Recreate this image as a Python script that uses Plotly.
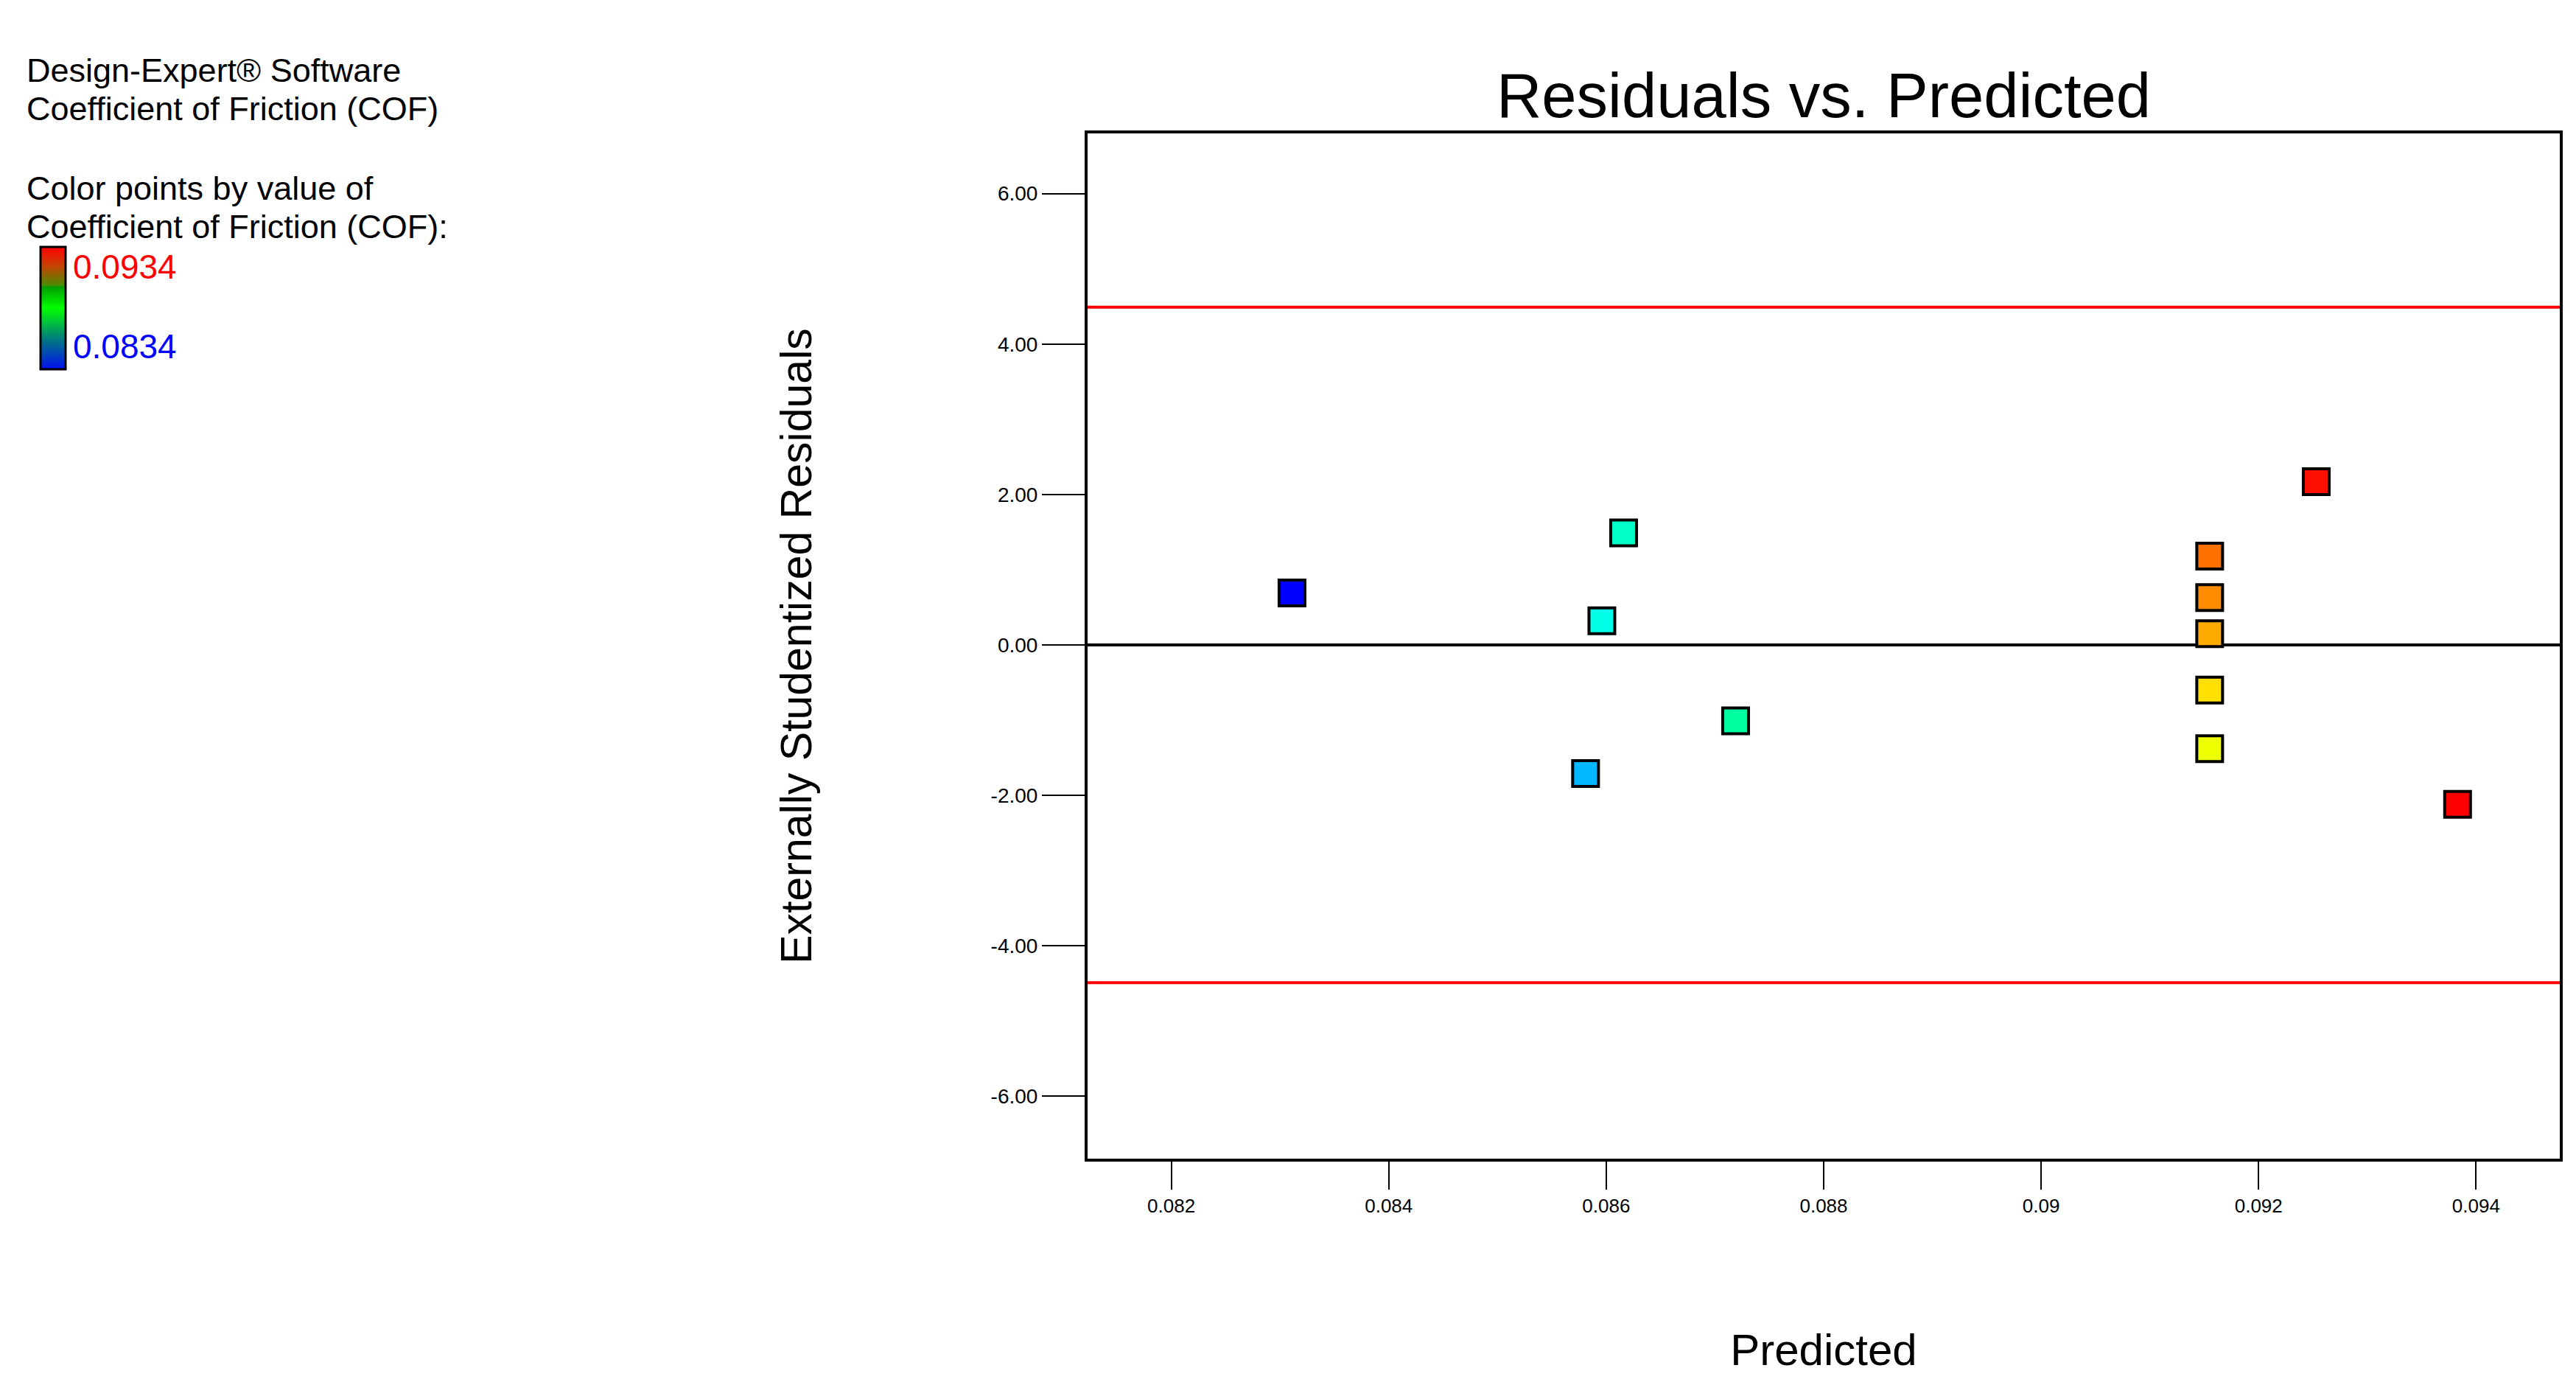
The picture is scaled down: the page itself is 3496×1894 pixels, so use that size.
import plotly.graph_objects as go

# ---- data ----
predicted = [0.08311, 0.08616, 0.08596, 0.08581, 0.08719, 0.09253,
             0.09155, 0.09155, 0.09155, 0.09155, 0.09155, 0.09383]
residuals = [0.69, 1.49, 0.32, -1.71, -1.01, 2.17,
             1.18, 0.63, 0.15, -0.60, -1.38, -2.12]
point_colors = ["#0000FF", "#00FFC8", "#00FFE6", "#00B8FF", "#00FFA0", "#FF1000",
                "#FF7000", "#FF8C00", "#FFAA00", "#FFE000", "#EEFF00", "#FF0000"]
limit_lines = [4.49, -4.49]
x_tickvals = [0.082, 0.084, 0.086, 0.088, 0.090, 0.092, 0.094]
x_ticktext = ["0.082", "0.084", "0.086", "0.088", "0.09", "0.092", "0.094"]
y_tickvals = [-6, -4, -2, 0, 2, 4, 6]
y_ticktext = ["-6.00", "-4.00", "-2.00", "0.00", "2.00", "4.00", "6.00"]
cof_min, cof_max = 0.0834, 0.0934
info_lines = ["Design-Expert® Software", "Coefficient of Friction (COF)", "",
              "Color points by value of", "Coefficient of Friction (COF):"]

W, H = 3496, 1894
L, R, T, B = 1468, 3466, 173, 1564
PW, PH = R - L, B - T
FONT = "Arial, Liberation Sans, sans-serif"


def px(xp):
    return (xp - L) / PW


def py(yp):
    return 1 - (yp - T) / PH


fig = go.Figure()

fig.add_trace(go.Scatter(
    x=predicted, y=residuals, mode="markers",
    marker=dict(symbol="square", size=35, color=point_colors,
                line=dict(color="black", width=4)),
    showlegend=False,
))

# colour legend bar
fig.add_trace(go.Scatter(
    x=[None], y=[None], mode="markers", showlegend=False, hoverinfo="skip",
    marker=dict(
        color=[cof_min], cmin=cof_min, cmax=cof_max, showscale=True,
        colorscale=[[0, "#0010F0"], [0.26, "#00807A"], [0.5, "#00FF00"],
                    [0.67, "#00A000"], [0.69, "#508A00"], [0.85, "#C84000"],
                    [1, "#FF0000"]],
        colorbar=dict(
            x=px(47), xanchor="left", y=py(327), yanchor="top",
            thicknessmode="pixels", thickness=34,
            lenmode="fraction", len=166 / PH,
            xpad=0, ypad=0, outlinewidth=3, outlinecolor="black",
            showticklabels=False, ticks="",
        ),
    ),
))

for v in limit_lines:
    fig.add_shape(type="line", xref="paper", x0=0, x1=1, yref="y", y0=v, y1=v,
                  line=dict(color="#FF0000", width=4), layer="below")

# left-hand info text
line_y = [87, 139, 193, 247, 300]
for txt, yy in zip(info_lines, line_y):
    if txt:
        fig.add_annotation(text=txt, xref="paper", yref="paper",
                           x=px(26), y=py(yy),
                           xanchor="left", yanchor="middle", showarrow=False,
                           font=dict(family=FONT, size=45, color="black"))

fig.add_annotation(text=f"{cof_max:.4f}", xref="paper", yref="paper",
                   x=px(89), y=py(354),
                   xanchor="left", yanchor="middle", showarrow=False,
                   font=dict(family=FONT, size=46, color="#FF0000"))
fig.add_annotation(text=f"{cof_min:.4f}", xref="paper", yref="paper",
                   x=px(89), y=py(462),
                   xanchor="left", yanchor="middle", showarrow=False,
                   font=dict(family=FONT, size=46, color="#0000FF"))

fig.update_layout(
    width=W, height=H,
    margin=dict(l=L, r=W - R, t=T, b=H - B),
    paper_bgcolor="white", plot_bgcolor="white",
    title=dict(text="Residuals vs. Predicted", x=(L + R) / 2 / W, xanchor="center",
               y=1 - 121 / H, yanchor="middle",
               font=dict(family=FONT, size=85, color="black")),
    xaxis=dict(
        range=[0.08123, 0.09477], tickvals=x_tickvals, ticktext=x_ticktext,
        ticks="outside", ticklen=38, tickwidth=2, tickcolor="black",
        showline=True, linecolor="black", linewidth=4, mirror=True,
        showgrid=False, zeroline=False,
        tickfont=dict(family=FONT, size=26, color="black"),
        title=dict(text="Predicted", standoff=161,
                   font=dict(family=FONT, size=60, color="black")),
    ),
    yaxis=dict(
        range=[-6.83, 6.80], tickvals=y_tickvals, ticktext=y_ticktext,
        ticks="outside", ticklen=58, tickwidth=2, tickcolor="black",
        showline=True, linecolor="black", linewidth=4, mirror=True,
        showgrid=False, zeroline=True, zerolinecolor="black", zerolinewidth=4,
        tickfont=dict(family=FONT, size=28, color="black"),
        title=dict(text="Externally Studentized Residuals", standoff=225,
                   font=dict(family=FONT, size=59, color="black")),
    ),
)

fig.write_html("out.html")
